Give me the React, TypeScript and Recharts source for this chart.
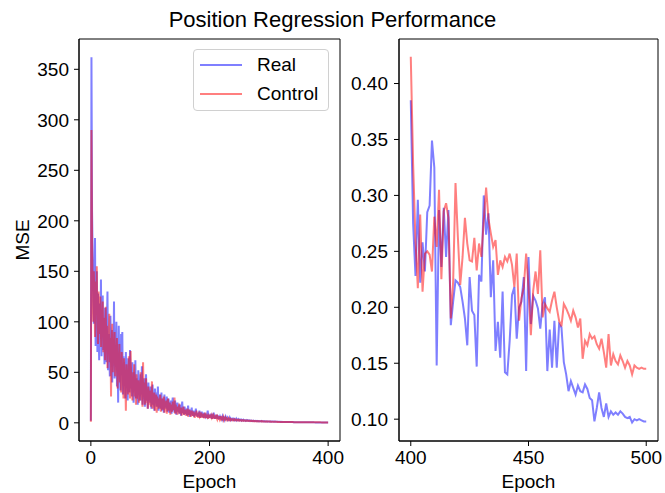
import React from 'react';
import { LineChart, Line, XAxis, YAxis, ReferenceArea, Legend, Label } from 'recharts';

const TITLE = 'Position Regression Performance';
const SERIES_NAMES = ['Real', 'Control'];
const X_LABEL = 'Epoch';
const Y_LABEL = 'MSE';

const LEFT_X_TICKS = [0, 200, 400];
const LEFT_Y_TICKS = [0, 50, 100, 150, 200, 250, 300, 350];
const RIGHT_X_TICKS = [400, 450, 500];
const RIGHT_Y_TICKS = [0.1, 0.15, 0.2, 0.25, 0.3, 0.35, 0.4];

// Epochs 0..400 (MSE, left panel)
const realLeft = [
  2, 362, 210, 165, 120, 98, 140, 183, 76, 112, 150, 70, 128, 95, 62, 118, 84, 142, 66, 104,
  126, 72, 96, 58, 114, 82, 60, 98, 130, 52, 88, 70, 46, 106, 64, 92, 40, 78, 58, 120,
  44, 86, 62, 100, 36, 70, 20, 96, 54, 74, 32, 88, 48, 90, 28, 66, 42, 60, 24, 70,
  38, 56, 22, 64, 46, 30, 72, 34, 52, 26, 60, 40, 20, 50, 32, 62, 24, 44, 36, 18,
  52, 30, 40, 22, 48, 28, 56, 18, 38, 26, 44, 16, 34, 48, 22, 30, 14, 40, 24, 32,
  20, 36, 14, 28, 38, 18, 26, 12, 34, 22, 30, 16, 24, 36, 12, 22, 28, 14, 20, 30,
  12, 24, 18, 10, 28, 16, 22, 14, 26, 11, 18, 24, 10, 20, 15, 22, 9, 17, 25, 12,
  18, 10, 22, 14, 8, 16, 20, 11, 15, 9, 18, 12, 7, 14, 21, 10, 13, 8, 16, 11,
  9, 14, 7, 12, 17, 8, 11, 6, 13, 9, 15, 7, 10, 12, 6, 11, 8, 14, 7, 9,
  6, 10, 8, 12, 5, 9, 7, 11, 6, 8, 5, 10, 7, 6, 9, 5, 8, 12, 6, 7,
  5, 8, 6, 9, 4, 7, 5, 10, 6, 4, 7, 5, 8, 4, 6, 5, 7, 3.5, 6, 4.5,
  5, 3.5, 6, 4, 5, 3, 4.5, 6, 3.5, 4, 5, 3, 4, 3.5, 5, 3, 4, 2.8, 3.5, 4,
  3, 3.8, 2.6, 3.4, 3, 4, 2.5, 3.2, 2.8, 3.5, 2.4, 3, 2.6, 3.2, 2.2, 2.8, 2.5, 3, 2.2, 2.6,
  2.4, 2, 2.7, 2.2, 2.5, 2, 2.3, 1.9, 2.4, 2.1, 1.8, 2.2, 2, 1.7, 2.1, 1.9, 1.6, 2, 1.8, 1.7,
  1.9, 1.6, 1.8, 1.5, 1.7, 1.6, 1.5, 1.8, 1.4, 1.6, 1.5, 1.4, 1.7, 1.3, 1.5, 1.4, 1.3, 1.5, 1.2, 1.4,
  1.3, 1.2, 1.4, 1.2, 1.3, 1.1, 1.2, 1.3, 1.1, 1.2, 1.0, 1.2, 1.1, 1.0, 1.1, 1.0, 1.1, 0.95, 1.0, 0.9,
  1.0, 0.9, 0.95, 0.85, 0.9, 0.85, 0.9, 0.8, 0.85, 0.8, 0.82, 0.78, 0.8, 0.75, 0.78, 0.74, 0.76, 0.72, 0.74, 0.7,
  0.72, 0.68, 0.7, 0.66, 0.68, 0.64, 0.66, 0.62, 0.64, 0.6, 0.62, 0.59, 0.6, 0.57, 0.58, 0.56, 0.57, 0.54, 0.55, 0.53,
  0.54, 0.52, 0.53, 0.5, 0.51, 0.49, 0.5, 0.48, 0.49, 0.47, 0.48, 0.46, 0.47, 0.45, 0.46, 0.45, 0.45, 0.44, 0.44, 0.43,
  0.43, 0.42, 0.42, 0.41, 0.41, 0.41, 0.4, 0.4, 0.4, 0.39, 0.39, 0.39, 0.39, 0.39, 0.38, 0.38, 0.38, 0.38, 0.385, 0.385,
  0.385,
];

const controlLeft = [
  1, 290, 180, 135, 100, 150, 120, 85, 140, 110, 155, 95, 78, 130, 102, 88, 125, 75, 110, 92,
  120, 70, 104, 86, 62, 115, 78, 96, 54, 88, 72, 108, 60, 84, 26, 76, 98, 50, 82, 64,
  90, 46, 72, 58, 84, 34, 66, 50, 78, 40, 62, 30, 70, 44, 56, 24, 64, 38, 48, 12,
  58, 34, 46, 28, 66, 40, 24, 71, 36, 50, 22, 44, 30, 58, 26, 40, 18, 48, 32, 24,
  42, 20, 36, 28, 50, 22, 34, 16, 60, 26, 40, 18, 30, 44, 20, 28, 14, 36, 22, 18,
  32, 16, 26, 41, 14, 24, 20, 30, 12, 22, 28, 10, 26, 18, 14, 24, 16, 28, 11, 20,
  24, 13, 18, 26, 10, 20, 15, 22, 9, 17, 24, 12, 16, 20, 8, 18, 14, 11, 21, 13,
  16, 25, 9, 18, 12, 14, 8, 16, 11, 19, 9, 13, 15, 7, 12, 10, 16, 8, 11, 13,
  7, 12, 9, 14, 6, 10, 13, 8, 11, 6, 12, 9, 7, 11, 8, 5, 10, 7, 12, 6,
  9, 5, 8, 11, 6, 7, 10, 5, 8, 6, 9, 4.5, 7, 10, 5, 8, 6, 4, 7, 5.5,
  6, 8, 4.5, 7, 5, 6.5, 4, 7, 5.5, 6, 4, 8, 5, 3.5, 6, 4.5, 5, 3.5, 6.5, 4,
  5, 3.5, 4.5, 6, 3, 4.5, 3.8, 5, 3, 4.2, 3.6, 2.8, 4.4, 3.2, 3.8, 2.6, 3.6, 3, 3.4, 2.6,
  3.2, 2.6, 3.4, 2.8, 2.4, 3.2, 2.7, 2.3, 3, 2.5, 2.8, 2.2, 2.7, 2.4, 2.1, 2.6, 2.3, 2, 2.5, 2.2,
  2, 2.4, 2.1, 1.9, 2.3, 2, 1.8, 2.2, 1.9, 1.7, 2.1, 1.8, 1.9, 1.6, 2, 1.7, 1.8, 1.6, 1.7, 1.5,
  1.8, 1.5, 1.7, 1.6, 1.4, 1.6, 1.5, 1.4, 1.6, 1.3, 1.5, 1.4, 1.3, 1.4, 1.3, 1.2, 1.4, 1.2, 1.3, 1.2,
  1.2, 1.3, 1.1, 1.2, 1.1, 1.15, 1.0, 1.1, 1.05, 1.0, 1.05, 0.95, 1.0, 0.95, 0.9, 0.95, 0.9, 0.92, 0.88, 0.9,
  0.86, 0.88, 0.84, 0.85, 0.82, 0.84, 0.8, 0.82, 0.78, 0.8, 0.77, 0.78, 0.75, 0.76, 0.74, 0.74, 0.72, 0.73, 0.7, 0.71,
  0.7, 0.69, 0.68, 0.68, 0.66, 0.67, 0.65, 0.65, 0.64, 0.63, 0.63, 0.62, 0.61, 0.61, 0.6, 0.6, 0.59, 0.58, 0.58, 0.57,
  0.57, 0.56, 0.56, 0.55, 0.55, 0.54, 0.54, 0.53, 0.53, 0.52, 0.52, 0.51, 0.51, 0.5, 0.5, 0.49, 0.49, 0.48, 0.48, 0.47,
  0.47, 0.47, 0.46, 0.46, 0.46, 0.45, 0.45, 0.45, 0.44, 0.44, 0.44, 0.44, 0.43, 0.43, 0.43, 0.43, 0.43, 0.42, 0.42, 0.42,
  0.424,
];

// Epochs 400..500 (right panel)
const realRight = [
  0.385, 0.275, 0.228, 0.296, 0.222, 0.258, 0.232, 0.285, 0.291, 0.349,
  0.325, 0.148, 0.287, 0.236, 0.289, 0.245, 0.287, 0.184, 0.205, 0.224,
  0.222, 0.218, 0.205, 0.19, 0.166, 0.227, 0.197, 0.193, 0.147, 0.229,
  0.223, 0.3, 0.265, 0.284, 0.209, 0.242, 0.161, 0.187, 0.155, 0.214,
  0.142, 0.14, 0.17, 0.211, 0.218, 0.172, 0.2, 0.205, 0.227, 0.143,
  0.245, 0.185, 0.21, 0.206, 0.199, 0.181, 0.203, 0.209, 0.143, 0.18,
  0.146, 0.188, 0.146, 0.185, 0.182, 0.151, 0.14, 0.125, 0.134, 0.128,
  0.122, 0.13, 0.125, 0.124, 0.131, 0.127, 0.119, 0.117, 0.098, 0.11,
  0.124, 0.11, 0.102, 0.114, 0.102, 0.107, 0.104, 0.106, 0.104, 0.107,
  0.105, 0.102, 0.101, 0.102, 0.097, 0.1, 0.099, 0.1, 0.099, 0.098,
  0.098,
];

const controlRight = [
  0.424, 0.328, 0.26, 0.217, 0.283, 0.214, 0.248, 0.25, 0.247, 0.232,
  0.281, 0.254, 0.305, 0.225, 0.286, 0.293, 0.28, 0.19, 0.223, 0.311,
  0.263, 0.22, 0.245, 0.28, 0.257, 0.242, 0.241, 0.262, 0.233, 0.257,
  0.245, 0.278, 0.307, 0.279, 0.266, 0.254, 0.26, 0.229, 0.242, 0.236,
  0.245, 0.241, 0.248, 0.238, 0.218, 0.248, 0.188, 0.208, 0.218, 0.248,
  0.218, 0.175, 0.215, 0.232, 0.212, 0.251, 0.191, 0.203, 0.199, 0.196,
  0.206, 0.214, 0.2, 0.188, 0.183, 0.203, 0.199, 0.194, 0.188, 0.197,
  0.191, 0.182, 0.19, 0.154, 0.17, 0.166, 0.176, 0.172, 0.174, 0.167,
  0.163, 0.172, 0.16, 0.146, 0.176, 0.148, 0.158, 0.152, 0.149, 0.157,
  0.152, 0.146, 0.152, 0.148, 0.14, 0.148, 0.146, 0.145, 0.146, 0.145,
  0.145,
];

const leftData = realLeft.map((v, i) => ({ epoch: i, real: v, control: controlLeft[i] }));
const rightData = realRight.map((v, i) => ({ epoch: 400 + i, real: v, control: controlRight[i] }));

const FONT = '"Liberation Sans", Arial, sans-serif';
const FS = 19;
const BLUE = '#0000ff';
const RED = '#ff0000';
const tickStyle = { fill: '#000', fontSize: FS, fontFamily: FONT };

const renderLegend = () => (
  <div
    style={{
      width: 136,
      height: 62,
      border: '1px solid #d0d0d0',
      borderRadius: 4,
      background: 'rgba(255,255,255,0.8)',
      boxSizing: 'border-box',
      fontFamily: FONT,
      fontSize: FS,
      color: '#000',
      position: 'relative',
    }}
  >
    {SERIES_NAMES.map((name, i) => (
      <div key={name} style={{ position: 'absolute', left: 6, top: 4 + i * 28.6, height: 22, display: 'flex', alignItems: 'center' }}>
        <div style={{ width: 42, height: 2, background: i === 0 ? BLUE : RED, opacity: 0.5 }} />
        <span style={{ marginLeft: 15, lineHeight: '22px' }}>{name}</span>
      </div>
    ))}
  </div>
);

export default function App() {
  return (
    <div style={{ position: 'absolute', left: 0, top: 0, width: 665, height: 493, background: '#fff' }}>
      <div
        style={{
          position: 'absolute',
          left: 0,
          width: 665,
          top: 8,
          textAlign: 'center',
          fontFamily: FONT,
          fontSize: 22,
          lineHeight: '24px',
          color: '#000',
        }}
      >
        {TITLE}
      </div>
      <div style={{ position: 'absolute', left: 0, top: 0 }}>
        <LineChart width={345} height={493} data={leftData} margin={{ top: 39, right: 5, bottom: 0, left: 0 }}>
          <XAxis
            dataKey="epoch"
            type="number"
            domain={[-20, 420]}
            ticks={LEFT_X_TICKS}
            allowDataOverflow
            height={52}
            tickSize={5}
            tickMargin={5}
            tick={tickStyle}
            stroke="#000"
          >
            <Label value={X_LABEL} position="insideBottom" offset={5} style={{ fill: '#000', fontSize: FS, fontFamily: FONT }} />
          </XAxis>
          <YAxis
            type="number"
            domain={[-18, 380]}
            ticks={LEFT_Y_TICKS}
            allowDataOverflow
            width={79}
            tickSize={5}
            tickMargin={5}
            tick={tickStyle}
            stroke="#000"
          >
            <Label
              value={Y_LABEL}
              angle={-90}
              position="insideLeft"
              offset={22}
              style={{ fill: '#000', fontSize: FS, fontFamily: FONT, textAnchor: 'middle' }}
            />
          </YAxis>
          <ReferenceArea x1={-20} x2={420} y1={-18} y2={380} fill="none" stroke="#000" strokeWidth={1} ifOverflow="visible" />
          <Line type="linear" dataKey="real" name={SERIES_NAMES[0]} stroke={BLUE} strokeOpacity={0.5} strokeWidth={2} dot={false} isAnimationActive={false} />
          <Line type="linear" dataKey="control" name={SERIES_NAMES[1]} stroke={RED} strokeOpacity={0.5} strokeWidth={2} dot={false} isAnimationActive={false} />
          <Legend
            layout="vertical"
            align="center"
            verticalAlign="middle"
            content={renderLegend}
            wrapperStyle={{ left: 193, top: 49, width: 136, height: 62 }}
          />
        </LineChart>
      </div>
      <div style={{ position: 'absolute', left: 345, top: 0 }}>
        <LineChart width={320} height={493} data={rightData} margin={{ top: 39, right: 7, bottom: 0, left: 0 }}>
          <XAxis
            dataKey="epoch"
            type="number"
            domain={[395, 505]}
            ticks={RIGHT_X_TICKS}
            allowDataOverflow
            height={52}
            tickSize={5}
            tickMargin={5}
            tick={tickStyle}
            stroke="#000"
          >
            <Label value={X_LABEL} position="insideBottom" offset={5} style={{ fill: '#000', fontSize: FS, fontFamily: FONT }} />
          </XAxis>
          <YAxis
            type="number"
            domain={[0.0805, 0.4398]}
            ticks={RIGHT_Y_TICKS}
            allowDataOverflow
            width={54}
            tickSize={5}
            tickMargin={6}
            tick={tickStyle}
            tickFormatter={(v: number) => v.toFixed(2)}
            stroke="#000"
          />
          <ReferenceArea x1={395} x2={505} y1={0.0805} y2={0.4398} fill="none" stroke="#000" strokeWidth={1} ifOverflow="visible" />
          <Line type="linear" dataKey="real" name={SERIES_NAMES[0]} stroke={BLUE} strokeOpacity={0.5} strokeWidth={2} dot={false} isAnimationActive={false} />
          <Line type="linear" dataKey="control" name={SERIES_NAMES[1]} stroke={RED} strokeOpacity={0.5} strokeWidth={2} dot={false} isAnimationActive={false} />
        </LineChart>
      </div>
    </div>
  );
}
